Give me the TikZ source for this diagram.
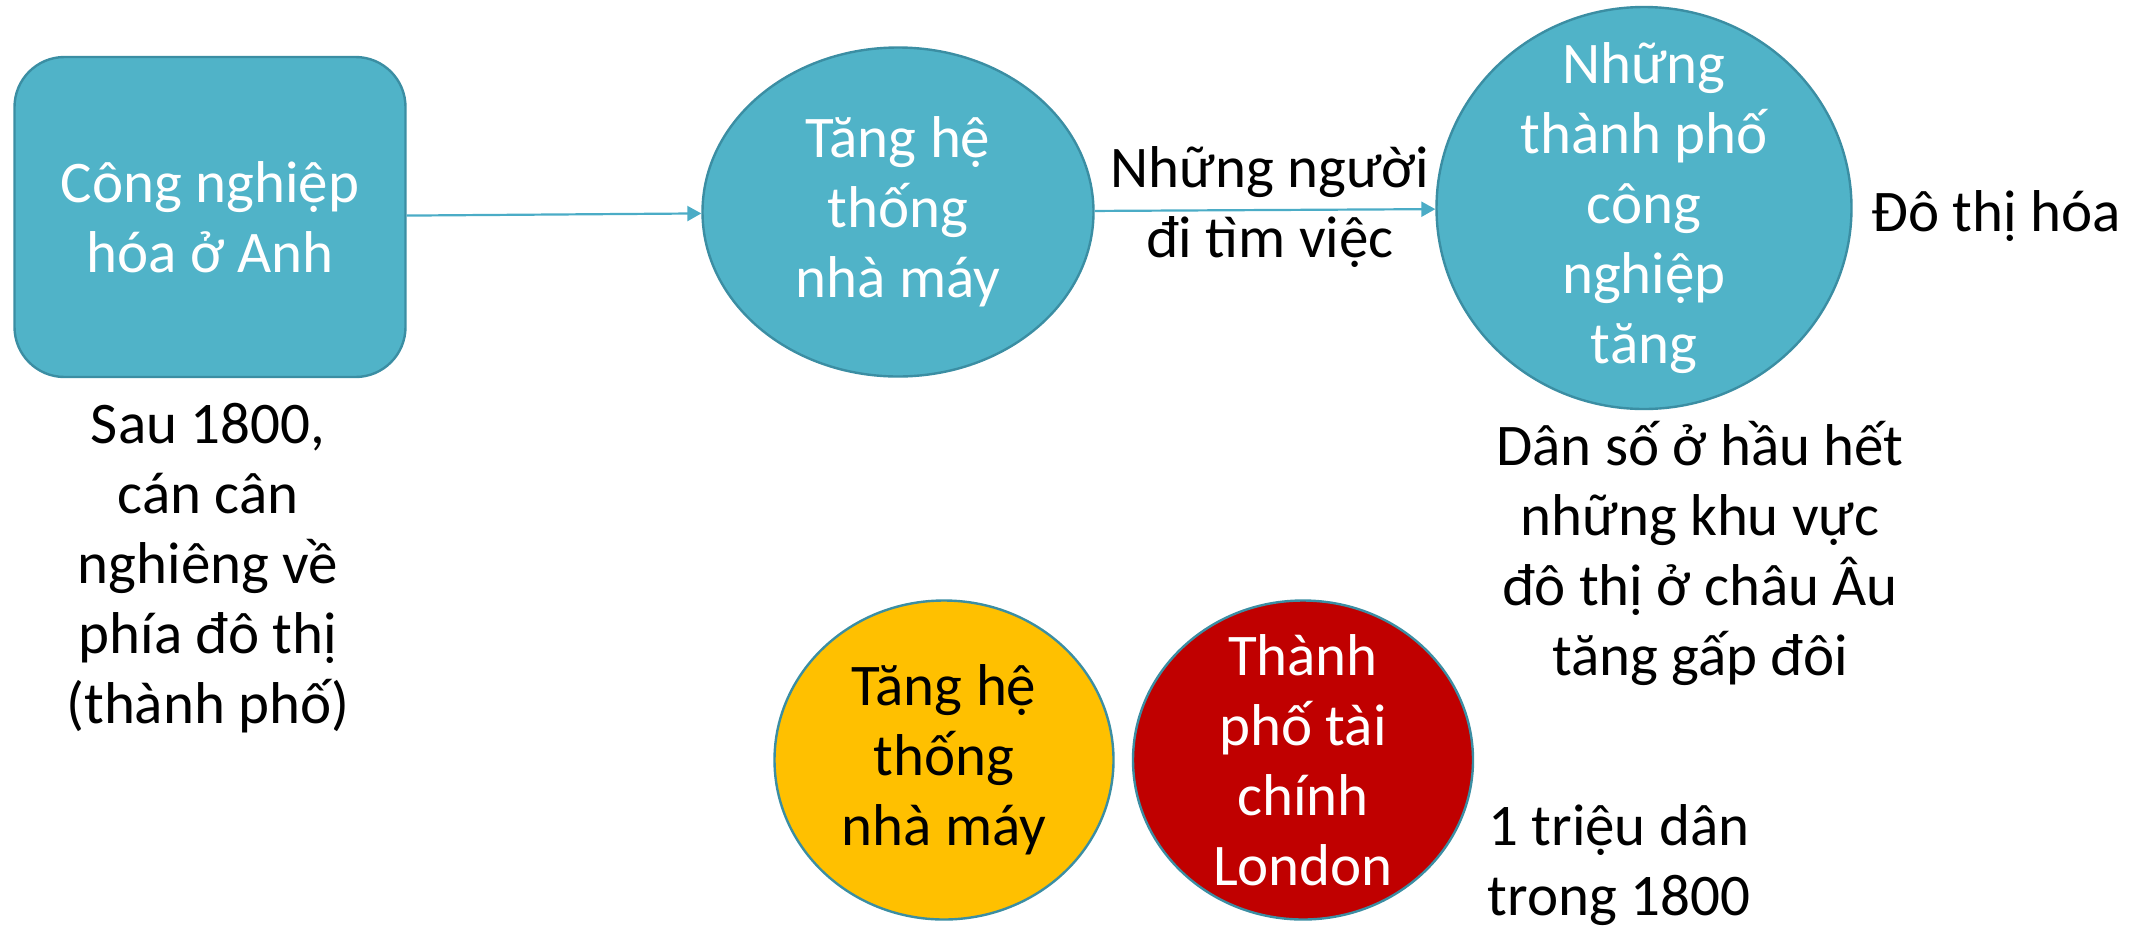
\documentclass[tikz,border=0pt]{standalone}
\usepackage{fontspec}
\setmainfont{Carlito}
\usetikzlibrary{arrows.meta,shapes.geometric}
\definecolor{tealfill}{HTML}{50B3C8}
\definecolor{tealline}{HTML}{3B8EA3}
\definecolor{arrowcol}{HTML}{4BACC6}
\definecolor{goldfill}{HTML}{FFC000}
\definecolor{redfill}{HTML}{C00000}
\begin{document}
\begin{tikzpicture}[x=0.5pt,y=-0.5pt,
  every node/.style={font=\fontsize{29.5}{35}\selectfont,align=center,inner sep=0pt},
  blob/.style={ellipse,draw=tealline,line width=1.2pt,fill=tealfill},
  box/.style={rectangle,rounded corners=25pt,draw=tealline,line width=1.2pt,fill=tealfill,text=white},
  flow/.style={draw=arrowcol,line width=1.1pt,-{Triangle[length=7pt,width=7.5pt]}}]
  \useasboundingbox (0,0) rectangle (2136,927);
  \node[box,minimum width=195.5pt,minimum height=160pt] (start) at (210,217) {Công nghiệp\\hóa ở Anh};
  \node[blob,minimum width=195.5pt,minimum height=164.5pt] (factory) at (898,212) {};
  \node[text=white] at (factory) {Tăng hệ\\thống\\nhà máy};
  \node[blob,minimum width=207.5pt,minimum height=201pt] (cities) at (1644,208) {};
  \node[text=white] at (cities) {Những\\thành phố\\công\\nghiệp\\tăng};
  \node[blob,fill=goldfill,minimum width=169.5pt,minimum height=159.5pt] (factory2) at (944,760) {};
  \node at (factory2) {Tăng hệ\\thống\\nhà máy};
  \node[blob,fill=redfill,minimum width=170pt,minimum height=159.5pt] (london) at (1303,760) {};
  \node[text=white] at (london) {Thành\\phố tài\\chính\\London};
  \path[flow] (start) -- (factory);
  \path[flow] (factory) -- (cities);
  \node (jobs) at (1270,207) {Những người\\đi tìm việc};
  \node (urban) at (1996,216) {Đô thị hóa};
  \node (after) at (208,568) {Sau 1800,\\cán cân\\nghiêng về\\phía đô thị\\(thành phố)};
  \node (europe) at (1700,553) {Dân số ở hầu hết\\những khu vực\\đô thị ở châu Âu\\tăng gấp đôi};
  \node (million) at (1619,865) {1 triệu dân\\trong 1800};
\end{tikzpicture}
\end{document}
